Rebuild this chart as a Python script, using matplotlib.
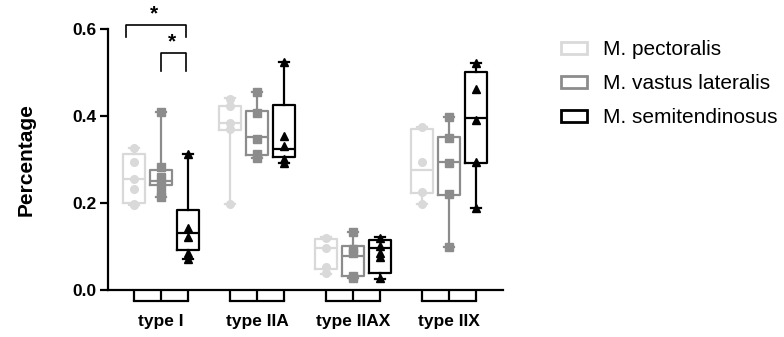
import numpy as np
import matplotlib
matplotlib.use("Agg")
import matplotlib.pyplot as plt
from matplotlib.patches import Patch

plt.rcParams['font.family'] = ['Liberation Sans', 'DejaVu Sans']

# data
categories = ['type I', 'type IIA', 'type IIAX', 'type IIX']
muscles = ['M. pectoralis', 'M. vastus lateralis', 'M. semitendinosus']

# box stats per fibre type: [min, q1, median, q3, max]
pect_box = [[0.195, 0.200, 0.255, 0.313, 0.326],
            [0.198, 0.368, 0.384, 0.423, 0.441],
            [0.037, 0.048, 0.096, 0.117, 0.121],
            [0.198, 0.223, 0.276, 0.370, 0.375]]
vast_box = [[0.214, 0.241, 0.250, 0.276, 0.410],
            [0.303, 0.310, 0.352, 0.412, 0.456],
            [0.027, 0.032, 0.078, 0.102, 0.134],
            [0.099, 0.218, 0.294, 0.352, 0.398]]
semi_box = [[0.071, 0.093, 0.131, 0.185, 0.312],
            [0.293, 0.305, 0.325, 0.425, 0.525],
            [0.026, 0.039, 0.096, 0.115, 0.121],
            [0.189, 0.292, 0.395, 0.501, 0.522]]

# individual animals
pect_pts = [[0.326, 0.295, 0.255, 0.232, 0.198, 0.196],
            [0.440, 0.423, 0.384, 0.370, 0.198],
            [0.119, 0.096, 0.053, 0.040],
            [0.375, 0.294, 0.225, 0.198]]
vast_pts = [[0.410, 0.283, 0.260, 0.245, 0.228, 0.214],
            [0.456, 0.406, 0.347, 0.312, 0.303],
            [0.134, 0.095, 0.085, 0.032, 0.027],
            [0.398, 0.350, 0.292, 0.220, 0.099]]
semi_pts = [[0.312, 0.143, 0.122, 0.085, 0.071],
            [0.525, 0.354, 0.330, 0.300, 0.293],
            [0.120, 0.100, 0.085, 0.076, 0.028],
            [0.522, 0.462, 0.390, 0.295, 0.189]]

# significance: (group, series a, series b, bracket top, leg bottom)
sig_pairs = [(0, 0, 2, 0.609, 0.582), (0, 1, 2, 0.545, 0.503)]

colors = ['#d9d9d9', '#8c8c8c', '#000000']
markers = ['o', 's', '^']
offsets = [-0.28, 0.0, 0.28]
lw = 1.6

fig = plt.figure(figsize=(7.84, 3.37), dpi=100)
ax = fig.add_axes([0.1378, 0.1395, 0.5038, 0.7745])

centers = np.arange(1, len(categories) + 1)
all_pos = []
for k, (boxes, pts) in enumerate(zip([pect_box, vast_box, semi_box],
                                     [pect_pts, vast_pts, semi_pts])):
    pos = centers + offsets[k]
    all_pos.extend(pos)
    stats = [dict(whislo=b[0], q1=b[1], med=b[2], q3=b[3], whishi=b[4], fliers=[])
             for b in boxes]
    c = colors[k]
    ax.bxp(stats, positions=pos, widths=0.23, capwidths=0.1, showfliers=False,
           boxprops=dict(color=c, linewidth=lw),
           whiskerprops=dict(color=c, linewidth=lw),
           capprops=dict(color=c, linewidth=lw),
           medianprops=dict(color=c, linewidth=lw))
    for p, vals in zip(pos, pts):
        ax.plot([p] * len(vals), vals, linestyle='none', marker=markers[k],
                color=c, markersize=5.5, zorder=3)

ax.set_xlim(0.448, 4.5625)
ax.set_ylim(0, 0.6)
ax.set_yticks([0, 0.2, 0.4, 0.6])
ax.set_yticklabels(['0.0', '0.2', '0.4', '0.6'], fontweight='bold', fontsize=12.5)
ax.tick_params(axis='y', length=6, width=lw, pad=2)

# grouped x axis: ticks under each box, joined at the bottom
ax.xaxis.remove_overlapping_locs = False
ax.set_xticks(sorted(all_pos))
ax.set_xticklabels([])
ax.tick_params(axis='x', which='major', length=8, width=lw)
ax.set_xticks(centers, minor=True)
ax.set_xticklabels(categories, minor=True, fontweight='bold', fontsize=12.5)
ax.tick_params(axis='x', which='minor', length=0, pad=17)
tick_depth = 8 / 72 * 100 / (ax.get_position().height * 337) * 0.6
for c0 in centers:
    ax.plot([c0 + offsets[0], c0 + offsets[-1]], [-tick_depth, -tick_depth],
            color='black', linewidth=lw, clip_on=False, solid_capstyle='projecting')

for s in ['top', 'right']:
    ax.spines[s].set_visible(False)
for s in ['left', 'bottom']:
    ax.spines[s].set_linewidth(lw)

ax.set_ylabel('Percentage', fontweight='bold', fontsize=15, labelpad=27)

# significance brackets
for g, a, b, top, leg in sig_pairs:
    x0 = centers[g] + offsets[a]
    x1 = centers[g] + offsets[b] - 0.02
    if a == 0:
        x0 -= 0.09
    ax.plot([x0, x0, x1, x1], [leg, top, top, leg], color='black',
            linewidth=1.2, clip_on=False)
    ax.text((x0 + x1) / 2 - 0.02, top + 0.004, '*', ha='center', va='bottom',
            fontsize=15, fontweight='bold', clip_on=False)

handles = [Patch(facecolor='white', edgecolor=c, linewidth=2) for c in colors]
fig.legend(handles, muscles, loc='upper left', bbox_to_anchor=(0.705, 0.905),
           frameon=False, fontsize=15, handlelength=1.25, handleheight=0.55,
           handletextpad=0.75, labelspacing=0.72, borderaxespad=0)

fig.savefig('out.png', dpi=100)
